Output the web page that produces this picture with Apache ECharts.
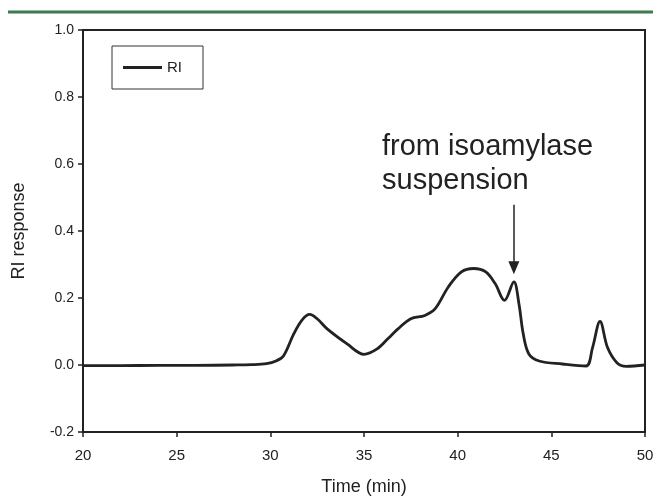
<!DOCTYPE html>
<html><head><meta charset="utf-8">
<script src="https://cdn.jsdelivr.net/npm/echarts@6/dist/echarts.min.js"></script>
<style>html,body{margin:0;padding:0;background:#fff}#c{width:653px;height:497px}</style>
</head><body><div id="c"></div>
<script>
var timeMin = [20,22,24,26,28,29,29.8,30.3,30.7,31.25,31.7,32.1,32.5,33.05,34.1,35.0,35.7,36.3,36.8,37.5,38.25,38.8,39.5,40.2,40.85,41.5,42.0,42.5,43.0,43.27,43.5,43.8,44.35,45.6,46.85,47.2,47.6,48.0,48.5,49.0,50];
var riResponse = [-0.002,-0.002,-0.001,-0.001,0.0,0.001,0.004,0.012,0.027,0.093,0.135,0.151,0.138,0.107,0.063,0.032,0.048,0.08,0.107,0.138,0.148,0.168,0.233,0.278,0.288,0.278,0.243,0.193,0.248,0.183,0.093,0.033,0.012,0.003,-0.003,0.052,0.13,0.052,0.007,-0.004,0.0];
var yTicks = [-0.2,0.0,0.2,0.4,0.6,0.8,1.0];
var xTicks = [20,25,30,35,40,45,50];
var annotationText = ['from isoamylase','suspension'];
var arrowTime = 43.0;
var arrowFrom = 0.478, arrowTo = 0.29;

var chart = echarts.init(document.getElementById('c'));
var pts = timeMin.map(function(t,i){return [t, riResponse[i]];});
var font = 'Arial, "Liberation Sans", sans-serif';
chart.setOption({
  animation:false,
  backgroundColor:'#fff',
  grid:{left:83,top:30,width:562,height:402,show:true,borderColor:'#222',borderWidth:2,outerBoundsMode:'none',containLabel:false},
  legend:{data:['RI'],left:112,top:46,orient:'vertical',borderColor:'#333',borderWidth:1,padding:[14,21,14,11],
    itemWidth:39,itemHeight:3,icon:'rect',textStyle:{fontFamily:font,fontSize:15,color:'#222'}},
  xAxis:{type:'value',min:20,max:50,interval:5,name:'Time (min)',nameLocation:'middle',nameGap:46,
    nameTextStyle:{fontFamily:font,fontSize:18,color:'#222'},
    axisLine:{onZero:false,lineStyle:{color:'#222',width:2}},axisTick:{show:true,length:5,lineStyle:{color:'#222',width:1.5}},
    axisLabel:{fontFamily:font,fontSize:15,color:'#222',margin:16},splitLine:{show:false}},
  yAxis:{type:'value',min:-0.2,max:1.0,interval:0.2,name:'RI response',nameLocation:'middle',nameGap:55,
    nameTextStyle:{fontFamily:font,fontSize:18,color:'#222'},
    axisLine:{onZero:false,lineStyle:{color:'#222',width:2}},axisTick:{show:true,length:5,lineStyle:{color:'#222',width:1.5}},
    axisLabel:{fontFamily:font,fontSize:14,color:'#222',margin:9,formatter:function(v){return v.toFixed(1);}},splitLine:{show:false}},
  series:[{name:'RI',type:'line',data:pts,smooth:0.35,showSymbol:false,symbol:'none',
    lineStyle:{color:'#222',width:2.8},itemStyle:{color:'#222'},
    markLine:{silent:true,symbol:['none','triangle'],symbolSize:[11,13],label:{show:false},
      lineStyle:{color:'#222',width:1.5,type:'solid'},
      data:[[{coord:[arrowTime,arrowFrom]},{coord:[arrowTime,arrowTo]}]]}}],
  graphic:[
    {type:'line',shape:{x1:8,y1:12,x2:653,y2:12},style:{stroke:'#3d7a4e',lineWidth:3}},
    {type:'text',left:382,top:130,style:{text:annotationText.join('\n'),font:'29px '+font,fill:'#222',lineHeight:34}}
  ]
});
</script></body></html>
